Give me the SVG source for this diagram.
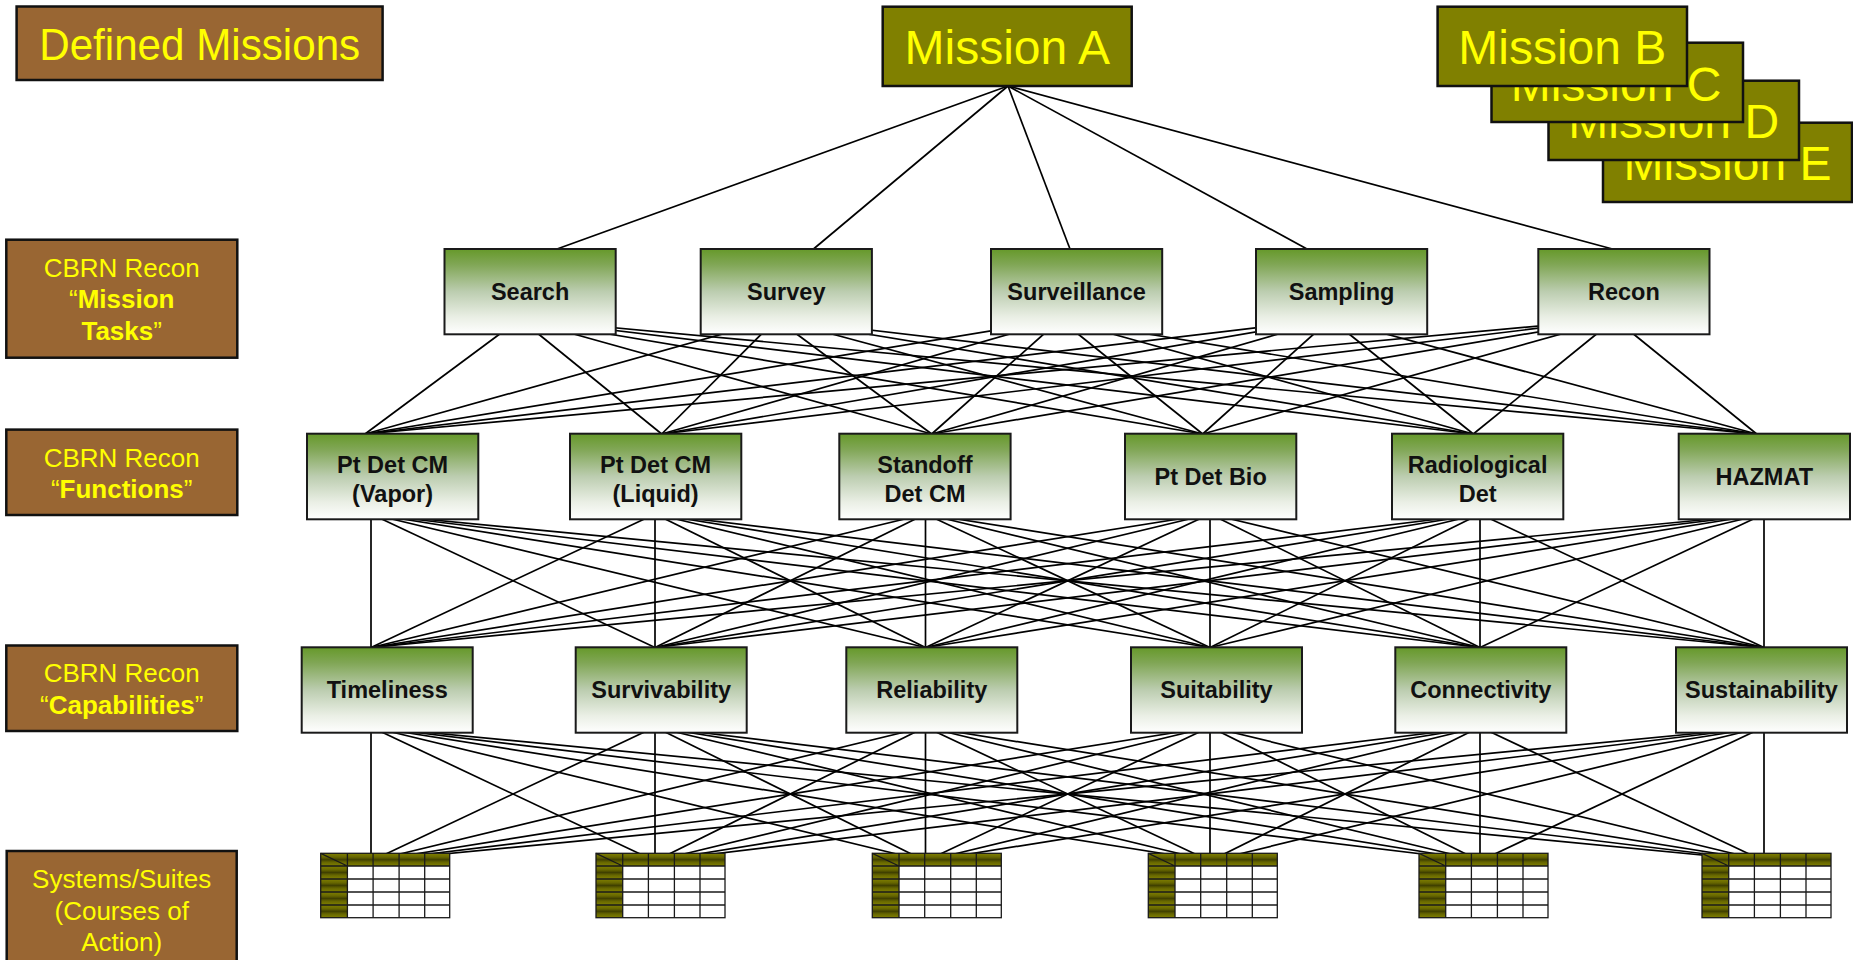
<svg xmlns="http://www.w3.org/2000/svg" xmlns:xlink="http://www.w3.org/1999/xlink" width="1853" height="960" viewBox="0 0 1853 960">
<style>
.bg{fill:#ffffff}
.side{fill:#996633;stroke:#111;stroke-width:2.5}
.mis{fill:#808000;stroke:#111;stroke-width:2.5}
.node{fill:url(#grn);stroke:#1a1a1a;stroke-width:2}
.ty{font-family:"Liberation Sans",Arial,sans-serif;fill:#ffff00;text-anchor:middle}
.tm{font-size:48px}
.ts{font-size:26px}
.b{font-weight:bold}
.tl{font-family:"Liberation Sans",Arial,sans-serif;font-weight:bold;font-size:23.5px;fill:#111;text-anchor:middle}
.conn line{stroke:#000;stroke-width:1.7}
.grid{stroke:#1a1a1a;stroke-width:1.3;fill:none}
</style>
<defs>
<linearGradient id="grn" x1="0" y1="0" x2="0" y2="1">
<stop offset="0" stop-color="#66992a"/>
<stop offset="0.18" stop-color="#80a655"/>
<stop offset="0.5" stop-color="#bccdb0"/>
<stop offset="0.8" stop-color="#eaefe5"/>
<stop offset="1" stop-color="#ffffff"/>
</linearGradient>
<linearGradient id="olv" x1="0" y1="0" x2="0" y2="1">
<stop offset="0" stop-color="#808000"/>
<stop offset="0.3" stop-color="#666600"/>
<stop offset="0.5" stop-color="#404000"/>
<stop offset="0.7" stop-color="#666600"/>
<stop offset="1" stop-color="#808000"/>
</linearGradient>
<g id="tbl">
<rect x="0" y="0" width="129" height="64.4" fill="#fff"/>
<rect x="0" y="0" width="26.7" height="12.7" fill="url(#olv)"/>
<rect x="26.7" y="0" width="25.7" height="12.7" fill="url(#olv)"/>
<rect x="52.4" y="0" width="26" height="12.7" fill="url(#olv)"/>
<rect x="78.4" y="0" width="25.6" height="12.7" fill="url(#olv)"/>
<rect x="104" y="0" width="25" height="12.7" fill="url(#olv)"/>
<rect x="0" y="12.7" width="26.7" height="13" fill="url(#olv)"/>
<rect x="0" y="25.7" width="26.7" height="13" fill="url(#olv)"/>
<rect x="0" y="38.7" width="26.7" height="13" fill="url(#olv)"/>
<rect x="0" y="51.7" width="26.7" height="12.7" fill="url(#olv)"/>
<path class="grid" d="M26.7 0V64.4M52.4 0V64.4M78.4 0V64.4M104 0V64.4M0 12.7H129M0 25.7H129M0 38.7H129M0 51.7H129M0 0L26.7 12.7"/>
<rect class="grid" x="0" y="0" width="129" height="64.4" stroke-width="1.6"/>
</g>
</defs>
<rect class="bg" x="0" y="0" width="1853" height="960"/>

<g class="conn" id="connectors">
<line x1="1008" y1="86" x2="557" y2="249"/>
<line x1="1008" y1="86" x2="813.5" y2="249"/>
<line x1="1008" y1="86" x2="1070" y2="249"/>
<line x1="1008" y1="86" x2="1307" y2="249"/>
<line x1="1008" y1="86" x2="1612.5" y2="249"/>
<line x1="520" y1="319" x2="365" y2="434"/><line x1="520" y1="319" x2="661.7" y2="434"/><line x1="520" y1="319" x2="931.7" y2="434"/><line x1="520" y1="319" x2="1202.7" y2="434"/><line x1="520" y1="319" x2="1473.3" y2="434"/><line x1="520" y1="319" x2="1756.7" y2="434"/>
<line x1="776.4" y1="319" x2="365" y2="434"/><line x1="776.4" y1="319" x2="661.7" y2="434"/><line x1="776.4" y1="319" x2="931.7" y2="434"/><line x1="776.4" y1="319" x2="1202.7" y2="434"/><line x1="776.4" y1="319" x2="1473.3" y2="434"/><line x1="776.4" y1="319" x2="1756.7" y2="434"/>
<line x1="1060" y1="319.5" x2="365" y2="434"/><line x1="1060" y1="319.5" x2="661.7" y2="434"/><line x1="1060" y1="319.5" x2="931.7" y2="434"/><line x1="1060" y1="319.5" x2="1202.7" y2="434"/><line x1="1060" y1="319.5" x2="1473.3" y2="434"/><line x1="1060" y1="319.5" x2="1756.7" y2="434"/>
<line x1="1330.5" y1="319" x2="365" y2="434"/><line x1="1330.5" y1="319" x2="661.7" y2="434"/><line x1="1330.5" y1="319" x2="931.7" y2="434"/><line x1="1330.5" y1="319" x2="1202.7" y2="434"/><line x1="1330.5" y1="319" x2="1473.3" y2="434"/><line x1="1330.5" y1="319" x2="1756.7" y2="434"/>
<line x1="1615" y1="319" x2="365" y2="434"/><line x1="1615" y1="319" x2="661.7" y2="434"/><line x1="1615" y1="319" x2="931.7" y2="434"/><line x1="1615" y1="319" x2="1202.7" y2="434"/><line x1="1615" y1="319" x2="1473.3" y2="434"/><line x1="1615" y1="319" x2="1756.7" y2="434"/>
<line x1="371" y1="514" x2="371" y2="647.5"/><line x1="371" y1="514" x2="655" y2="647.5"/><line x1="371" y1="514" x2="925.5" y2="647.5"/><line x1="371" y1="514" x2="1210" y2="647.5"/><line x1="371" y1="514" x2="1480" y2="647.5"/><line x1="371" y1="514" x2="1764" y2="647.5"/>
<line x1="655" y1="514" x2="371" y2="647.5"/><line x1="655" y1="514" x2="655" y2="647.5"/><line x1="655" y1="514" x2="925.5" y2="647.5"/><line x1="655" y1="514" x2="1210" y2="647.5"/><line x1="655" y1="514" x2="1480" y2="647.5"/><line x1="655" y1="514" x2="1764" y2="647.5"/>
<line x1="925.5" y1="514" x2="371" y2="647.5"/><line x1="925.5" y1="514" x2="655" y2="647.5"/><line x1="925.5" y1="514" x2="925.5" y2="647.5"/><line x1="925.5" y1="514" x2="1210" y2="647.5"/><line x1="925.5" y1="514" x2="1480" y2="647.5"/><line x1="925.5" y1="514" x2="1764" y2="647.5"/>
<line x1="1210" y1="514" x2="371" y2="647.5"/><line x1="1210" y1="514" x2="655" y2="647.5"/><line x1="1210" y1="514" x2="925.5" y2="647.5"/><line x1="1210" y1="514" x2="1210" y2="647.5"/><line x1="1210" y1="514" x2="1480" y2="647.5"/><line x1="1210" y1="514" x2="1764" y2="647.5"/>
<line x1="1480" y1="514" x2="371" y2="647.5"/><line x1="1480" y1="514" x2="655" y2="647.5"/><line x1="1480" y1="514" x2="925.5" y2="647.5"/><line x1="1480" y1="514" x2="1210" y2="647.5"/><line x1="1480" y1="514" x2="1480" y2="647.5"/><line x1="1480" y1="514" x2="1764" y2="647.5"/>
<line x1="1764" y1="514" x2="371" y2="647.5"/><line x1="1764" y1="514" x2="655" y2="647.5"/><line x1="1764" y1="514" x2="925.5" y2="647.5"/><line x1="1764" y1="514" x2="1210" y2="647.5"/><line x1="1764" y1="514" x2="1480" y2="647.5"/><line x1="1764" y1="514" x2="1764" y2="647.5"/>
<line x1="371" y1="727" x2="371" y2="861"/><line x1="371" y1="727" x2="655" y2="861"/><line x1="371" y1="727" x2="925.5" y2="861"/><line x1="371" y1="727" x2="1210" y2="861"/><line x1="371" y1="727" x2="1480" y2="861"/><line x1="371" y1="727" x2="1764" y2="861"/>
<line x1="655" y1="727" x2="371" y2="861"/><line x1="655" y1="727" x2="655" y2="861"/><line x1="655" y1="727" x2="925.5" y2="861"/><line x1="655" y1="727" x2="1210" y2="861"/><line x1="655" y1="727" x2="1480" y2="861"/><line x1="655" y1="727" x2="1764" y2="861"/>
<line x1="925.5" y1="727" x2="371" y2="861"/><line x1="925.5" y1="727" x2="655" y2="861"/><line x1="925.5" y1="727" x2="925.5" y2="861"/><line x1="925.5" y1="727" x2="1210" y2="861"/><line x1="925.5" y1="727" x2="1480" y2="861"/><line x1="925.5" y1="727" x2="1764" y2="861"/>
<line x1="1210" y1="727" x2="371" y2="861"/><line x1="1210" y1="727" x2="655" y2="861"/><line x1="1210" y1="727" x2="925.5" y2="861"/><line x1="1210" y1="727" x2="1210" y2="861"/><line x1="1210" y1="727" x2="1480" y2="861"/><line x1="1210" y1="727" x2="1764" y2="861"/>
<line x1="1480" y1="727" x2="371" y2="861"/><line x1="1480" y1="727" x2="655" y2="861"/><line x1="1480" y1="727" x2="925.5" y2="861"/><line x1="1480" y1="727" x2="1210" y2="861"/><line x1="1480" y1="727" x2="1480" y2="861"/><line x1="1480" y1="727" x2="1764" y2="861"/>
<line x1="1764" y1="727" x2="371" y2="861"/><line x1="1764" y1="727" x2="655" y2="861"/><line x1="1764" y1="727" x2="925.5" y2="861"/><line x1="1764" y1="727" x2="1210" y2="861"/><line x1="1764" y1="727" x2="1480" y2="861"/><line x1="1764" y1="727" x2="1764" y2="861"/>
</g>

<g id="lbl-defined"><rect class="side" x="16.6" y="6.5" width="366" height="73.5"/><text class="ty" x="199.7" y="59.8" font-size="44" textLength="321" lengthAdjust="spacingAndGlyphs">Defined Missions</text></g>
<g id="lbl-tasks"><rect class="side" x="6.3" y="239.7" width="231" height="118"/><text class="ty ts" x="121.7" y="276.7">CBRN Recon</text><text class="ty ts" x="121.7" y="308.3">“<tspan class="b">Mission</tspan></text><text class="ty ts" x="121.7" y="340"><tspan class="b">Tasks</tspan>”</text></g>
<g id="lbl-functions"><rect class="side" x="6.3" y="429.6" width="231" height="85.4"/><text class="ty ts" x="121.7" y="466.5">CBRN Recon</text><text class="ty ts" x="121.7" y="497.8">“<tspan class="b">Functions</tspan>”</text></g>
<g id="lbl-capabilities"><rect class="side" x="6.3" y="645.5" width="231" height="85.5"/><text class="ty ts" x="121.7" y="682.4">CBRN Recon</text><text class="ty ts" x="121.7" y="714.4">“<tspan class="b">Capabilities</tspan>”</text></g>
<g id="lbl-systems"><rect class="side" x="6.7" y="851" width="230" height="130"/><text class="ty ts" x="121.7" y="888.3">Systems/Suites</text><text class="ty ts" x="121.7" y="920">(Courses of</text><text class="ty ts" x="121.7" y="950.7">Action)</text></g>

<g id="mission-e"><rect class="mis" x="1603" y="122.7" width="249" height="79.3"/><text class="ty tm" x="1727.5" y="180">Mission E</text></g>
<g id="mission-d"><rect class="mis" x="1548.5" y="80.7" width="250.5" height="79.3"/><text class="ty tm" x="1673.7" y="137.5">Mission D</text></g>
<g id="mission-c"><rect class="mis" x="1491.5" y="42.7" width="251.5" height="79.3"/><text class="ty tm" x="1616" y="100.5">Mission C</text></g>
<g id="mission-b"><rect class="mis" x="1437.6" y="6.7" width="249.4" height="79.3"/><text class="ty tm" x="1562.3" y="64">Mission B</text></g>
<g id="mission-a"><rect class="mis" x="882.7" y="6.7" width="249" height="79.3"/><text class="ty tm" x="1007.2" y="64">Mission A</text></g>

<g id="task-search"><rect class="node" x="444.5" y="249" width="171.2" height="85.3"/><text class="tl" x="530.1" y="300">Search</text></g>
<g id="task-survey"><rect class="node" x="700.7" y="249" width="171.2" height="85.3"/><text class="tl" x="786.3" y="300">Survey</text></g>
<g id="task-surveillance"><rect class="node" x="991" y="249" width="171.2" height="85.3"/><text class="tl" x="1076.6" y="300">Surveillance</text></g>
<g id="task-sampling"><rect class="node" x="1256" y="249" width="171.2" height="85.3"/><text class="tl" x="1341.6" y="300">Sampling</text></g>
<g id="task-recon"><rect class="node" x="1538.3" y="249" width="171.2" height="85.3"/><text class="tl" x="1623.9" y="300">Recon</text></g>

<g id="fn-vapor"><rect class="node" x="307" y="433.7" width="171.3" height="85.6"/><text class="tl" x="392.6" y="473.3">Pt Det CM</text><text class="tl" x="392.6" y="502.3">(Vapor)</text></g>
<g id="fn-liquid"><rect class="node" x="570" y="433.7" width="171.3" height="85.6"/><text class="tl" x="655.6" y="473.3">Pt Det CM</text><text class="tl" x="655.6" y="502.3">(Liquid)</text></g>
<g id="fn-standoff"><rect class="node" x="839.3" y="433.7" width="171.3" height="85.6"/><text class="tl" x="925" y="473.3">Standoff</text><text class="tl" x="925" y="502.3">Det CM</text></g>
<g id="fn-bio"><rect class="node" x="1125" y="433.7" width="171.3" height="85.6"/><text class="tl" x="1210.6" y="485">Pt Det Bio</text></g>
<g id="fn-rad"><rect class="node" x="1392" y="433.7" width="171.3" height="85.6"/><text class="tl" x="1477.6" y="473.3">Radiological</text><text class="tl" x="1477.6" y="502.3">Det</text></g>
<g id="fn-hazmat"><rect class="node" x="1678.7" y="433.7" width="171.3" height="85.6"/><text class="tl" x="1764.3" y="485">HAZMAT</text></g>

<g id="cap-timeliness"><rect class="node" x="301.7" y="647.3" width="171" height="85.4"/><text class="tl" x="387.2" y="698.4">Timeliness</text></g>
<g id="cap-survivability"><rect class="node" x="575.7" y="647.3" width="171" height="85.4"/><text class="tl" x="661.2" y="698.4">Survivability</text></g>
<g id="cap-reliability"><rect class="node" x="846.3" y="647.3" width="171" height="85.4"/><text class="tl" x="931.8" y="698.4">Reliability</text></g>
<g id="cap-suitability"><rect class="node" x="1131" y="647.3" width="171" height="85.4"/><text class="tl" x="1216.5" y="698.4">Suitability</text></g>
<g id="cap-connectivity"><rect class="node" x="1395.3" y="647.3" width="171" height="85.4"/><text class="tl" x="1480.8" y="698.4">Connectivity</text></g>
<g id="cap-sustainability"><rect class="node" x="1676" y="647.3" width="171" height="85.4"/><text class="tl" x="1761.5" y="698.4">Sustainability</text></g>

<g id="sys-1"><use xlink:href="#tbl" href="#tbl" x="320.7" y="853.3"/></g>
<g id="sys-2"><use xlink:href="#tbl" href="#tbl" x="596" y="853.3"/></g>
<g id="sys-3"><use xlink:href="#tbl" href="#tbl" x="872.3" y="853.3"/></g>
<g id="sys-4"><use xlink:href="#tbl" href="#tbl" x="1148.3" y="853.3"/></g>
<g id="sys-5"><use xlink:href="#tbl" href="#tbl" x="1419" y="853.3"/></g>
<g id="sys-6"><use xlink:href="#tbl" href="#tbl" x="1702" y="853.3"/></g>
</svg>
